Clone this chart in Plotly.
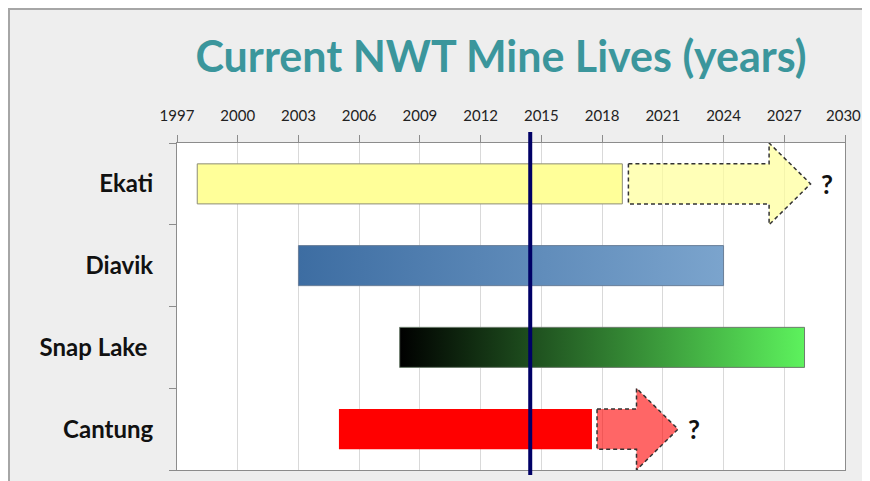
import plotly.graph_objects as go

# mine lives (years)
mines = ["Ekati", "Diavik", "Snap Lake\u00a0", "Cantung"]
start_year = [1998, 2003, 2008, 2005]
end_year = [2019, 2024, 2028, 2017.5]
# possible life extensions, drawn as dashed arrows (None = no extension)
ext_start = [2019.3, None, None, 2017.75]
ext_end = [2028.3, None, None, 2021.75]
today = 2014.45
year_ticks = list(range(1997, 2031, 3))

# styling
bar_left = ["#ffff99", "#3d6da2", "#000000", "#ff0000"]
bar_right = ["#ffff99", "#7ba4cd", "#5df25d", "#ff0000"]
bar_line = ["#8c8c78", "#6a7f99", "#6d7d6d", "rgba(0,0,0,0)"]
arrow_fill = ["rgba(255,255,153,0.7)", None, None, "rgba(255,0,0,0.6)"]
HALF = 0.245      # half bar height (category units)
HEAD = 2.05       # arrow head length (years)

# page has an 8px body margin, so the figure ends up 854 px wide in the window
W, H = 854, 473
L, R, T, B = 169, 17, 135, 11
pw, ph = W - L - R, H - T - B
TICKFONT = dict(family="Lato", size=15, color="#222222")


def px_x(p):
    return (p - L) / pw


def px_y(p):
    return (H - B - p) / ph


fig = go.Figure()

for i, name in enumerate(mines):
    s, e = start_year[i], end_year[i]
    fig.add_trace(go.Scatter(
        x=[s, e, e, s, s], y=[i - HALF, i - HALF, i + HALF, i + HALF, i - HALF],
        mode="lines", fill="toself",
        fillgradient=dict(type="horizontal",
                          colorscale=[[0, bar_left[i]], [1, bar_right[i]]]),
        line=dict(color=bar_line[i], width=1),
        hoverinfo="skip", showlegend=False,
    ))

for i, name in enumerate(mines):
    if ext_start[i] is None:
        continue
    s, tip = ext_start[i], ext_end[i]
    hb = tip - HEAD
    xs = [s, hb, hb, tip, hb, hb, s, s]
    ys = [i - HALF, i - HALF, i - 0.5, i, i + 0.5, i + HALF, i + HALF, i - HALF]
    fig.add_trace(go.Scatter(
        x=xs, y=ys, mode="lines", fill="toself", fillcolor=arrow_fill[i],
        line=dict(color="#333333", width=1.5, dash="4px,3px"),
        hoverinfo="skip", showlegend=False,
    ))
    fig.add_annotation(x=tip, y=i, text="<b>?</b>", showarrow=False,
                       xanchor="left", xshift=8,
                       font=dict(family="Lato", size=26, color="#111111"))

# the last year label sits at the very edge of the figure, where plotly
# would hide the tick label, so put it in as an annotation
fig.add_annotation(x=year_ticks[-1], y=px_y(107), yref="paper",
                   text=str(year_ticks[-1]), showarrow=False, xshift=-2,
                   xanchor="center", yanchor="middle", font=TICKFONT)

# current year marker
fig.add_shape(type="line", xref="x", yref="paper", x0=today, x1=today,
              y0=px_y(467), y1=px_y(124),
              line=dict(color="#000066", width=4))

# grey slide border along top and left edge
fig.add_shape(type="line", xref="paper", yref="paper",
              x0=px_x(0), x1=px_x(W), y0=px_y(1), y1=px_y(1),
              line=dict(color="#a6a6a6", width=2))
fig.add_shape(type="line", xref="paper", yref="paper",
              x0=px_x(1), x1=px_x(1), y0=px_y(0), y1=px_y(H),
              line=dict(color="#a6a6a6", width=2))

fig.update_layout(
    width=W, height=H,
    margin=dict(l=L, r=R, t=T, b=B),
    paper_bgcolor="#eeeeee", plot_bgcolor="white",
    title=dict(text="<b>Current NWT Mine Lives (years)</b>",
               x=px_x(493), xref="paper", xanchor="center",
               y=1 - 49 / H, yanchor="middle",
               font=dict(family="Lato", size=43, color="#3b969c")),
    xaxis=dict(range=[1997, 2030], side="top", tickvals=year_ticks,
               ticktext=[str(y) for y in year_ticks[:-1]] + [""],
               ticks="outside", ticklen=7, tickcolor="#8c8c8c",
               ticklabelstandoff=8,
               showgrid=True, gridcolor="#d9d9d9", gridwidth=1,
               showline=True, linecolor="#8c8c8c", mirror=True,
               tickfont=TICKFONT, zeroline=False),
    yaxis=dict(range=[3.5, -0.5], tickvals=list(range(len(mines))),
               ticktext=mines, ticks="", showgrid=False, zeroline=False,
               showline=True, linecolor="#8c8c8c", mirror=True,
               ticklabelstandoff=18,
               minor=dict(tickvals=[-0.5, 0.5, 1.5, 2.5, 3.5], ticks="outside",
                          ticklen=7, tickcolor="#8c8c8c", showgrid=False),
               tickfont=dict(family="Lato", size=24, color="#111111",
                             weight="bold")),
)

fig.write_html("out.html")
